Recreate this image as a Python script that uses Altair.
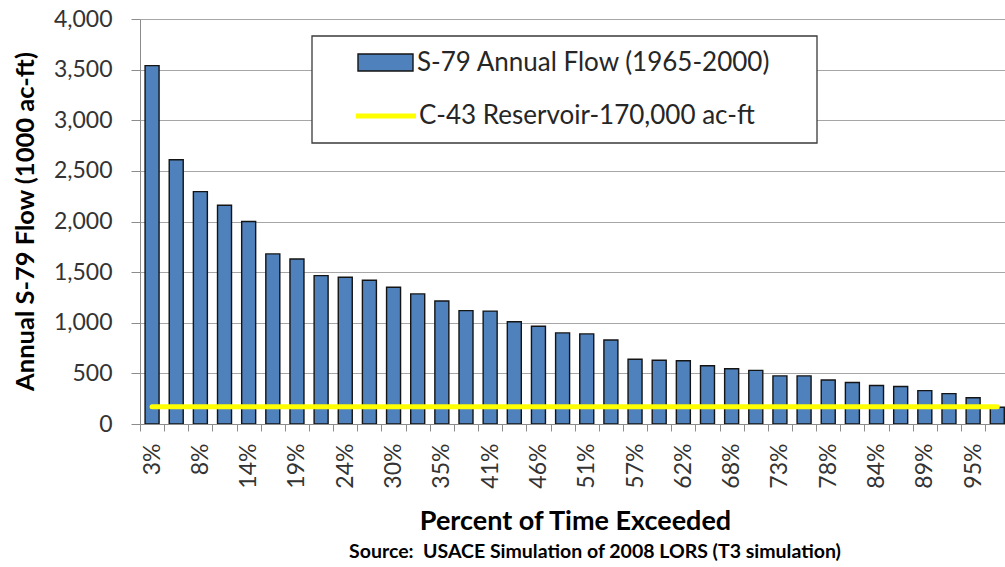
import json
import altair as alt
import pandas as pd

# Exceedance percentages for the 36 ranked years (1965-2000)
pct_labels = ["3%", "5%", "8%", "11%", "14%", "16%", "19%", "22%", "24%", "27%",
              "30%", "32%", "35%", "38%", "41%", "43%", "46%", "49%", "51%", "54%",
              "57%", "59%", "62%", "65%", "68%", "70%", "73%", "76%", "78%", "81%",
              "84%", "86%", "89%", "92%", "95%", "97%"]

# Annual S-79 flow, 1000 ac-ft, ranked from wettest to driest year
flow = [3540, 2610, 2295, 2160, 2000, 1680, 1630, 1465, 1450, 1420,
        1350, 1285, 1215, 1120, 1115, 1010, 965, 900, 890, 830,
        640, 630, 625, 575, 545, 530, 475, 475, 435, 410,
        380, 370, 330, 300, 260, 165]

reservoir_capacity = 170  # 1000 ac-ft

series_names = ["S-79 Annual Flow (1965-2000)", "C-43 Reservoir-170,000 ac-ft"]
x_title = "Percent of Time Exceeded"
y_title = "Annual S-79 Flow (1000 ac-ft)"
source_note = "Source:\u00a0 USACE Simulation of 2008 LORS (T3 simulation)"

n = len(flow)
bars_df = pd.DataFrame({"rank": list(range(1, n + 1)), "pct": pct_labels, "flow": flow})
line_df = pd.DataFrame({"start": [1], "end": [n], "capacity": [reservoir_capacity]})

FONT = "Lato"
BAR_BLUE = "#4F81BD"
AXIS_GRAY = "#8c8c8c"

# category boundaries carry tick marks, every other category centre carries a label
boundaries = [i + 0.5 for i in range(0, n)]
label_slots = list(range(1, n + 1, 2))
tick_values = sorted(boundaries + label_slots)
label_expr = (
    "datum.value % 1 == 0 ? " + json.dumps(pct_labels) + "[datum.value - 1] : ''"
)

# the plot runs past the right edge, so the last category is only partly shown
x_scale = alt.Scale(domain=[0.5, 36.32], nice=False, zero=False, padding=0)
y_scale = alt.Scale(domain=[0, 4000], nice=False, padding=0)

x_axis = alt.Axis(
    values=tick_values,
    tickCount=200,
    labelExpr=label_expr,
    labelAngle=-90,
    labelFont=FONT,
    labelFontSize=23,
    labelColor="#333333",
    labelPadding=12,
    labelOverlap=False,
    labelFlush=False,
    labelBound=False,
    tickSize=7,
    tickColor=AXIS_GRAY,
    tickOpacity={"condition": {"test": "datum.value % 1 == 0", "value": 0}, "value": 1},
    domainColor=AXIS_GRAY,
    grid=False,
    title=x_title,
    titleFont=FONT,
    titleFontSize=27,
    titleFontWeight="bold",
    titleColor="#000000",
    titleX=435,
    titleY=97,
    titleAlign="center",
    titleBaseline="middle",
)

y_axis = alt.Axis(
    values=list(range(0, 4001, 500)),
    format=",d",
    labelFont=FONT,
    labelFontSize=23,
    labelColor="#333333",
    labelPadding=19,
    tickSize=9,
    tickColor=AXIS_GRAY,
    domainColor=AXIS_GRAY,
    gridColor="#a6a6a6",
    gridWidth=1,
    title=y_title,
    titleFont=FONT,
    titleFontSize=25.5,
    titleFontWeight="bold",
    titleColor="#000000",
    titleAngle=270,
    titleX=-102,
    titleY=202,
    titleAlign="center",
    titleBaseline="bottom",
)

bars = alt.Chart(bars_df).mark_bar(
    size=14, fill=BAR_BLUE, stroke="#141414", strokeWidth=1.4, clip=True
).encode(
    x=alt.X("rank:Q", scale=x_scale, axis=x_axis),
    y=alt.Y("flow:Q", scale=y_scale, axis=y_axis),
)

capacity_line = alt.Chart(line_df).mark_rule(
    color="#FFFF00", strokeWidth=5, strokeCap="round"
).encode(
    x=alt.X("start:Q", scale=x_scale),
    x2="end:Q",
    y=alt.Y("capacity:Q", scale=y_scale),
)

# legend box drawn over the plot area
one_row = pd.DataFrame({"k": [0]})
legend_box = alt.Chart(one_row).mark_rect(
    fill="white", stroke="#3a3a3a", strokeWidth=1.3
).encode(x=alt.value(172), x2=alt.value(677), y=alt.value(17), y2=alt.value(124))

legend_bar = alt.Chart(one_row).mark_rect(
    fill=BAR_BLUE, stroke="#141414", strokeWidth=1.4
).encode(x=alt.value(218), x2=alt.value(273), y=alt.value(35), y2=alt.value(52))

legend_line = alt.Chart(one_row).mark_rule(
    color="#FFFF00", strokeWidth=5
).encode(x=alt.value(216), x2=alt.value(276), y=alt.value(97))

legend_text_style = dict(align="left", baseline="middle", font=FONT, fontSize=26, color="#262626")
legend_text_1 = alt.Chart(pd.DataFrame({"name": [series_names[0]]})).mark_text(
    **legend_text_style
).encode(x=alt.value(277), y=alt.value(44), text="name:N")
legend_text_2 = alt.Chart(pd.DataFrame({"name": [series_names[1]]})).mark_text(
    **legend_text_style
).encode(x=alt.value(279), y=alt.value(97), text="name:N")

source_text = alt.Chart(pd.DataFrame({"note": [source_note]})).mark_text(
    align="center", baseline="middle", font=FONT, fontSize=19.5, fontWeight="bold", color="#000000"
).encode(x=alt.value(455), y=alt.value(533), text="note:N")

chart = alt.layer(
    bars, capacity_line, legend_box, legend_bar, legend_line,
    legend_text_1, legend_text_2, source_text,
).properties(
    width=865,
    height=405,
    autosize=alt.AutoSizeParams(type="none"),
    padding={"left": 140, "top": 19, "right": 0, "bottom": 143},
    background="white",
).configure_view(stroke="transparent")

chart.save("out.html", embed_options={"renderer": "svg", "actions": False})
